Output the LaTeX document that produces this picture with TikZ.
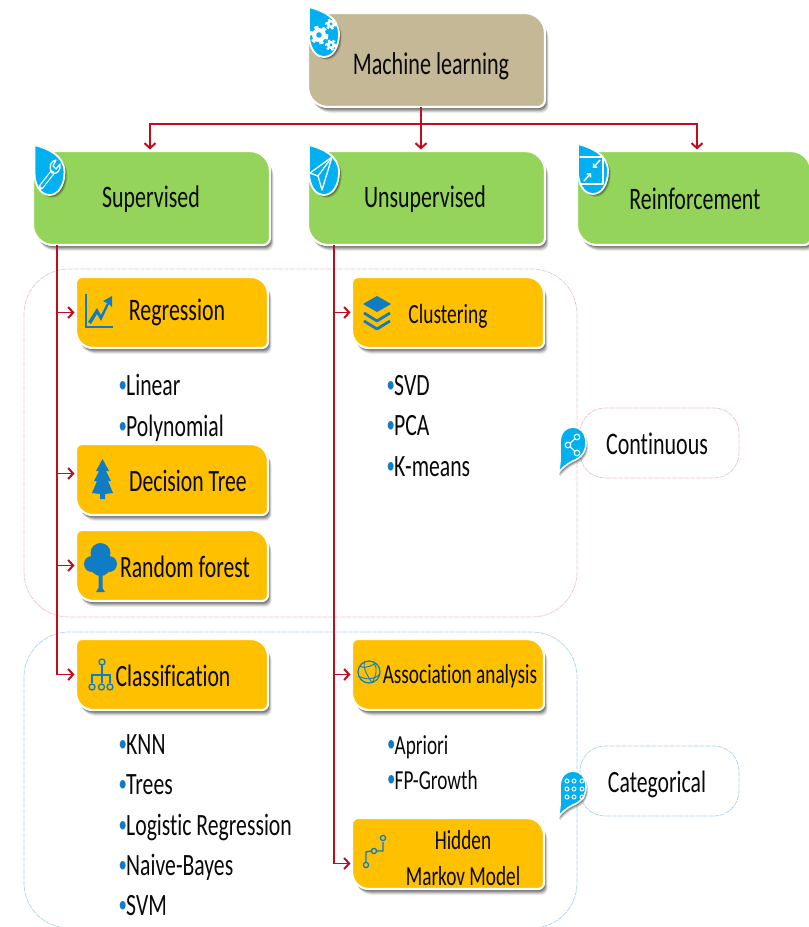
\documentclass[tikz,border=0pt]{standalone}
\usepackage{fontspec}
\setmainfont[FakeStretch=0.70,Ligatures=NoCommon]{Carlito}
\usetikzlibrary{arrows.meta,calc}
\definecolor{tan}{HTML}{C4B896}
\definecolor{grn}{HTML}{95D45A}
\definecolor{org}{HTML}{FFC000}
\definecolor{sky}{HTML}{00B0F0}
\definecolor{ico}{HTML}{0F7CC4}
\definecolor{bul}{HTML}{0F7CC4}
\definecolor{wire}{HTML}{C00D1E}
\definecolor{pinkd}{HTML}{F0C4CC}
\definecolor{blued}{HTML}{A9D5F0}
\definecolor{txt}{HTML}{0A0A0A}
\tikzset{
  x=1pt,y=-1pt,
  conn/.style={draw=wire,line width=1.5pt,shorten >=1.5pt,-{Straight Barb[length=5pt,width=11pt,line width=2pt]}},
  lbl/.style={font=\fontsize{#1}{#1}\selectfont,inner sep=0pt,anchor=base,text=txt},
  itm/.style={font=\fontsize{#1}{#1}\selectfont,inner sep=0pt,anchor=base west,text=txt},
  frame/.style={dashed,dash pattern=on 5pt off 1pt,line width=.7pt},
  holder/.style={inner sep=0pt,outer sep=0pt},
  iconline/.style={draw=ico,line width=1.6pt,fill=none},
  whiteline/.style={draw=white,line width=1.3pt,fill=none,line join=round,line cap=round},
  boxedge/.style={draw=white,line width=2.2pt},
}
\newcommand{\blt}{\makebox[7.5pt][l]{\color{bul}\fontsize{24}{24}\selectfont\raisebox{2.5pt}{•}}}
% name x0 y0 x1 y1 bigR fill smallR
\newcommand{\rbox}[8]{%
  \pgfmathsetmacro{\ym}{(#3+#5)/2}%
  \pgfmathsetlengthmacro{\bw}{#4-#2}%
  \pgfmathsetlengthmacro{\bh}{#5-#3}%
  \pgfmathsetmacro{\xm}{(#2+#4)/2}%
  \def\rpath{(#2,\ym) [rounded corners=#8pt] -- (#2,#3) [rounded corners=#6pt] -- (#4,#3) [rounded corners=#8pt] -- (#4,#5) [rounded corners=#6pt] -- (#2,#5) -- cycle}%
  \foreach \o/\a in {6/.07,5/.10,4/.14,3/.18,2/.22}{\fill[black,opacity=\a,shift={(\o*.6,\o)}] \rpath;}%
  \path[fill=#7,boxedge] \rpath;%
  \node[holder,minimum width=\bw,minimum height=\bh] (#1) at (\xm,\ym) {};%
}
% teardrop cx cy
\newcommand{\tdrop}[2]{%
  \def\dpath{(-15,-28) .. controls (-3,-25) and (15,-18) .. (15,-1) .. controls (15,12) and (9,22) .. (0,22) .. controls (-9,22) and (-15,12) .. (-15,0) -- cycle}%
  \begin{scope}[shift={(#1,#2)}]
    \foreach \o/\a in {4/.12,3/.18,2/.25}{\fill[black,opacity=\a,shift={(\o*.7,\o*.7)}] \dpath;}%
    \path[fill=sky,draw=white,line width=1.8pt] \dpath;%
  \end{scope}%
}
% speech bubble cx cy
\newcommand{\sdrop}[2]{%
  \def\spath{(-15,30) .. controls (-12,20) and (-13,10) .. (-13,0) .. controls (-13,-11) and (-7,-16) .. (0,-16) .. controls (7,-16) and (13,-11) .. (13,0) .. controls (13,9) and (8,15) .. (0,18) .. controls (-6,21) and (-11,25) .. (-15,30) -- cycle}%
  \begin{scope}[shift={(#1,#2)}]
    \foreach \o/\a in {4/.12,3/.18,2/.25}{\fill[black,opacity=\a,shift={(\o*.5,\o*.9)}] \spath;}%
    \path[fill=sky,draw=white,line width=1.6pt] \spath;%
  \end{scope}%
}
\newcommand{\gear}[3]{%
  \fill[white] (#1,#2) circle ({#3});%
  \pgfmathsetmacro{\gl}{#3*.55}\pgfmathsetmacro{\gh}{#3*.4}%
  \draw[white,line width=\gl pt,dash pattern=on \gl pt off \gl pt] (#1,#2) circle ({#3+.5});%
  \fill[sky] (#1,#2) circle ({\gh});%
}
\begin{document}
\begin{tikzpicture}
\useasboundingbox (0,0) rectangle (809,927);
\fill[white] (0,0) rectangle (809,927);

% frames
\draw[frame,draw=pinkd,rounded corners=45pt] (24,269) rectangle (577,617);
\draw[frame,draw=blued,rounded corners=45pt] (24,632) rectangle (577,928);
\draw[frame,draw=pinkd,rounded corners=25pt] (580,408) rectangle (739,478);
\draw[frame,draw=blued,rounded corners=25pt] (580,746) rectangle (739,816);

% boxes
\rbox{ml}{308}{13}{545}{107}{20}{tan}{7}
\rbox{sup}{33}{151}{270}{245}{20}{grn}{7}
\rbox{uns}{308}{151}{545}{245}{20}{grn}{7}
\rbox{rei}{577}{151}{811}{245}{20}{grn}{7}
\rbox{reg}{76}{277}{268}{348}{17}{org}{6}
\rbox{clu}{352}{277}{544}{348}{17}{org}{6}
\rbox{dec}{76}{444}{268}{515}{17}{org}{6}
\rbox{ran}{76}{530}{268}{601}{17}{org}{6}
\rbox{cla}{76}{639}{268}{710}{17}{org}{6}
\rbox{ass}{352}{639}{544}{710}{17}{org}{6}
\rbox{hmm}{352}{818}{544}{889}{17}{org}{6}

% connectors
\coordinate (hub) at (421,124);
\draw[conn] ([xshift=113pt]ml.south west) -- ([xshift=113pt]uns.north west);
\draw[conn] (hub) -| ([xshift=117pt]sup.north west);
\draw[conn] (hub) -| ([xshift=120pt]rei.north west);
\coordinate (supx) at ([xshift=24pt]sup.south west);
\coordinate (unsx) at ([xshift=26pt]uns.south west);
\draw[conn] (supx) |- (reg.west);
\draw[conn] (supx) |- ([yshift=6pt]dec.west);
\draw[conn] (supx) |- (ran.west);
\draw[conn] (supx) |- (cla.west);
\draw[conn] (unsx) |- (clu.west);
\draw[conn] (unsx) |- (ass.west);
\draw[conn] (unsx) |- ([yshift=-10pt]hmm.west);

% bubbles
\sdrop{573}{443}
\sdrop{573}{787}

% teardrops
\tdrop{324}{35}
\tdrop{49.5}{173}
\tdrop{324}{173}
\tdrop{593}{172}

% gears
\gear{319}{35}{7}
\gear{331}{24}{4.2}
\gear{331}{45}{4.2}
% wrench
\draw[whiteline,line width=5pt] (41,187) -- (52,173);
\draw[draw=sky,line width=2.6pt,line cap=round] (41.5,186.5) -- (52,173);
\draw[whiteline] (52,173) .. controls (48,166) and (51,161) .. (56,160) -- (53,166) -- (56,169) -- (60,164) .. controls (61,170) and (57,175) .. (52,173);
% plane
\draw[whiteline] (332,157) -- (310,173) -- (318,176) -- (322,190) -- cycle;
\draw[whiteline] (332,157) -- (318,176);
% square and arrows
\draw[whiteline] (580,157) -- (603,157) -- (603,184) -- (580,184);
\draw[white,line width=1.5pt,-{Straight Barb[length=2.5pt,width=5pt]}] (600,160) -- (593,168);
\draw[white,line width=1.5pt,-{Straight Barb[length=2.5pt,width=5pt]}] (584,181) -- (591,173);
% share icon
\draw[white,line width=1.1pt] (577,437) -- (568,445) -- (577,453);
\draw[white,fill=sky,line width=1.1pt] (577,437) circle (2.8);
\draw[white,fill=sky,line width=1.1pt] (568,445) circle (2.8);
\draw[white,fill=sky,line width=1.1pt] (577,453) circle (2.8);
% dots icon
\foreach \dx in {567,574,582}{\foreach \dy in {781,789,797}{\draw[white,line width=1pt] (\dx,\dy) circle (2);}}

% chart icon
\draw[draw=ico,line width=2pt] (85.5,294) -- (85.5,327) -- (113,327);
\path[fill=ico] (88,322) -- (97,308) -- (101,315) -- (107,303) -- (103,301) -- (112,296) -- (112,307) -- (109,304) -- (101,321) -- (97,314) -- (91,324) -- cycle;
% layers icon
\path[fill=ico] (377,296) -- (391,304) -- (377,312) -- (363,304) -- cycle;
\draw[draw=ico,line width=2.8pt,line join=round] (364,313) -- (377,321) -- (390,313);
\draw[draw=ico,line width=2.8pt,line join=round] (364,321) -- (377,329) -- (390,321);
% conifer
\path[fill=ico] (102.5,459) -- (109,471) -- (106,471) -- (111,481) -- (108,481) -- (113,493) -- (105,494) -- (105,499) -- (100,499) -- (100,494) -- (92,493) -- (97,481) -- (94,481) -- (99,471) -- (96,471) -- cycle;
% round tree
\fill[ico] (100.5,553) circle (10);
\fill[ico] (92,564) circle (8);
\fill[ico] (109,564) circle (8);
\fill[ico] (100.5,566) circle (10);
\path[fill=ico] (98.5,570) -- (102.5,570) -- (102.5,588) -- (105,592) -- (96,592) -- (98.5,588) -- cycle;
% org chart
\draw[iconline,line width=1.3pt] (102,665) -- (102,683) (92,683) -- (92,675) -- (110,675) -- (110,683);
\draw[iconline,line width=1.3pt] (102,662) circle (3);
\foreach \ox in {92,101.5,110}{\draw[iconline,line width=1.3pt] (\ox,687) circle (3);}
% globe
\draw[iconline,line width=1.2pt] (369,672) circle (11);
\draw[iconline,line width=.9pt] (360,666) .. controls (366,670) and (374,664) .. (376,663) (358,676) .. controls (366,680) and (374,680) .. (380,674) (365,661) .. controls (362,668) and (368,676) .. (372,683) (374,663) .. controls (378,668) and (376,676) .. (372,683);
% path icon
\draw[iconline,line width=1.3pt] (366,862) -- (366,852) -- (371,851) (377,851) -- (383,851) -- (383,842);
\draw[iconline,line width=1.3pt] (366,865) circle (2.6);
\draw[iconline,line width=1.3pt] (374,851) circle (2.6);
\draw[iconline,line width=1.3pt] (383,838) circle (2.6);

% labels
\node[lbl=31.6] (tml) at (431,74) {Machine learning};
\node[lbl=31.3] (tsup) at (151,207) {Supervised};
\node[lbl=31.3] (tuns) at (425,207) {Unsupervised};
\node[lbl=31.3] (trei) at (695,209) {Reinforcement};
\node[lbl=31.3] (treg) at (177,320) {Regression};
\node[lbl=27.8] (tclu) at (448,323) {Clustering};
\node[lbl=31] (tdec) at (188,491) {Decision Tree};
\node[lbl=31] (tran) at (185,577) {Random forest};
\node[lbl=31] (tcla) at (173,686) {Classification};
\node[lbl=27.5] (tass) at (460,683) {Association analysis};
\node[lbl=27.5] (thid) at (463,849) {Hidden};
\node[lbl=27.5] (tmar) at (463,885) {Markov Model};
\node[lbl=31.4] (tcon) at (657,454) {Continuous};
\node[lbl=31] (tcat) at (657,792) {Categorical};

% lists
\node[itm=31] (i1) at (118.5,395) {\blt Linear};
\node[itm=31] (i2) at (118.5,436) {\blt Polynomial};
\node[itm=31] (i3) at (386.5,395) {\blt SVD};
\node[itm=31] (i4) at (386.5,435) {\blt PCA};
\node[itm=31] (i5) at (386.5,476) {\blt K-means};
\node[itm=31] (i6) at (118.5,754) {\blt KNN};
\node[itm=31] (i7) at (118.5,794) {\blt Trees};
\node[itm=31] (i8) at (118.5,835) {\blt Logistic Regression};
\node[itm=31] (i9) at (118.5,875) {\blt Naive-Bayes};
\node[itm=31] (i10) at (118.5,915) {\blt SVM};
\node[itm=27.5] (i11) at (387,754) {\blt Apriori};
\node[itm=27.5] (i12) at (387,789) {\blt FP-Growth};
\end{tikzpicture}
\end{document}
